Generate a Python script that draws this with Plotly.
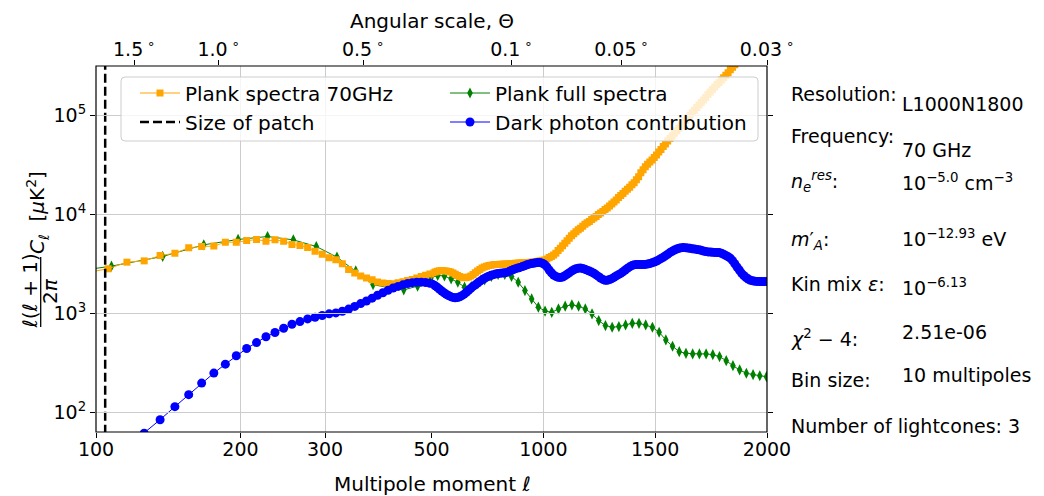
import math
import plotly.graph_objects as go

# ---------------- data ----------------
# multipole bins (bin size 10) for the 70 GHz spectrum and the dark-photon curve
ell_70 = list(range(96, 2000, 10))
planck70 = [
    2600, 2830, 3300, 3400, 3850, 4060, 4610, 4750, 4790, 5250,
    5250, 5460, 5590, 5370, 5540, 5370, 4980, 4860, 4640, 4260,
    3970, 3650, 3490, 3180, 2780, 2560, 2390, 2290, 2190, 2080,
    2030, 2010, 2000, 2040, 2090, 2150, 2200, 2290, 2370, 2440,
    2510, 2580, 2630, 2670, 2700, 2720, 2700, 2690, 2660, 2620,
    2560, 2490, 2420, 2360, 2320, 2300, 2310, 2340, 2400, 2480,
    2580, 2680, 2780, 2880, 2950, 3010, 3050, 3080, 3100, 3120,
    3130, 3140, 3150, 3160, 3170, 3180, 3190, 3200, 3220, 3230,
    3240, 3250, 3260, 3270, 3280, 3300, 3320, 3340, 3370, 3400,
    3440, 3470, 3550, 3670, 3760, 3890, 4070, 4320, 4570, 4840,
    5130, 5430, 5750, 6100, 6380, 6680, 7000, 7240, 7590, 7940,
    8220, 8510, 8910, 9230, 9550, 10000, 10350, 10720, 11220, 11610,
    12160, 12740, 13340, 13960, 14790, 15490, 16220, 17180, 17990, 18840,
    19950, 20890, 22390, 23990, 26300, 28180, 30200, 31990, 33880, 35480,
    37580, 39810, 42660, 45190, 48420, 51290, 54950, 58210, 61660, 66070,
    69980, 74130, 78520, 83180, 89130, 94410, 100000, 105900, 112200, 120200,
    127400, 134900, 142900, 151400, 162200, 171800, 182000, 192800, 204200, 213800,
    226500, 239900, 254100, 269200, 288400, 305500, 323600, 342800, 363100, 384600,
    407400, 426600, 451900, 478600, 501200, 530900, 562300, 595700, 631000, 668300,
    707900,
]
dark_photon = [
    24, 32, 45, 62, 85, 115, 152, 199, 251, 309,
    375, 444, 510, 584, 644, 711, 780, 830, 884, 918,
    955, 993, 1016, 1055, 1110, 1180, 1260, 1340, 1430, 1530,
    1620, 1720, 1810, 1880, 1950, 2010, 2050, 2070, 2075, 2060,
    2020, 1970, 1910, 1840, 1760, 1690, 1620, 1567, 1520, 1480,
    1455, 1445, 1450, 1475, 1515, 1570, 1640, 1720, 1800, 1880,
    1950, 2030, 2110, 2190, 2260, 2330, 2380, 2430, 2470, 2500,
    2530, 2550, 2560, 2575, 2600, 2650, 2720, 2780, 2840, 2880,
    2920, 2980, 3040, 3100, 3150, 3190, 3220, 3250, 3270, 3270,
    3220, 3120, 2960, 2750, 2580, 2450, 2370, 2320, 2310, 2340,
    2410, 2490, 2580, 2680, 2760, 2830, 2870, 2880, 2850, 2800,
    2740, 2680, 2620, 2550, 2460, 2370, 2280, 2210, 2170, 2170,
    2200, 2250, 2320, 2400, 2470, 2540, 2640, 2750, 2860, 2960,
    3050, 3100, 3120, 3120, 3120, 3120, 3130, 3160, 3200, 3250,
    3310, 3390, 3480, 3590, 3700, 3830, 3970, 4120, 4250, 4380,
    4480, 4560, 4610, 4630, 4620, 4590, 4550, 4510, 4470, 4440,
    4400, 4340, 4280, 4230, 4190, 4170, 4150, 4140, 4130, 4120,
    4060, 3970, 3850, 3740, 3620, 3420, 3180, 2950, 2750, 2560,
    2420, 2310, 2230, 2170, 2140, 2120, 2110, 2100, 2100, 2100,
    2100,
]
# Planck full binned spectrum (bins of 30)
ell_full = [round(77.7 + 30 * k, 1) for k in range(65)]
planck_full = [
    2400, 3010, 3770, 4940, 5590, 5990, 5540, 4750, 3710, 2690,
    1960, 1820, 1735, 1890, 2300, 2420, 2400, 2240, 2070, 1845,
    1875, 2020, 2190, 2370, 2480, 2480, 2370, 2070, 1705, 1405,
    1160, 1060, 1030, 1114, 1186, 1225, 1186, 1114, 993, 849,
    757, 728, 739, 769, 798, 798, 769, 728, 648, 542,
    468, 413, 397, 392, 392, 392, 385, 368, 335, 298,
    270, 250, 242, 236, 231,
]
ell_patch = 104.5

ell_split = 500
left_ticks = [100, 200, 300, 500]
left_ticktext = ["100", "200", "300", ""]
right_ticks = [500, 1000, 1500, 2000]
y_ticks = [1e2, 1e3, 1e4, 1e5]
y_ticktext = ["10<sup>2</sup>", "10<sup>3</sup>", "10<sup>4</sup>", "10<sup>5</sup>"]
top_tick_pos = [0.0569, 0.1827, 0.398, 0.619, 0.783, 1.0]
top_tick_text = ["1.5", "1.0", "0.5", "0.1", "0.05", "0.03"]

info_labels = ["Resolution:", "Frequency:", "<i>n</i><sub><i>e</i></sub><sup><i>res</i></sup>:",
               "<i>m</i>′<sub><i>A</i></sub>:", "Kin mix <i>ε</i>:",
               "<i>χ</i><sup>2</sup> − 4:", "Bin size:", "Number of lightcones: 3"]
info_values = ["L1000N1800", "70 GHz", "10<sup>−5.0</sup> cm<sup>−3</sup>",
               "10<sup>−12.93</sup> eV", "10<sup>−6.13</sup>", "2.51e-06", "10 multipoles", ""]

# ---------------- layout geometry (pixels, in window coordinates) ----------------
W, H = 1044, 496
OFF = 8                       # default page margin around the plot div
L, R, T, B = 96, 767, 66, 432
PW, PH = R - L, B - T
FONT = "DejaVu Sans"


def px(x):
    return (x - L) / PW


def py(y):
    return (B - y) / PH


def split(ell, val, lo, hi):
    left = [(a, b) for a, b in zip(ell, val) if a < hi]
    right = [(a, b) for a, b in zip(ell, val) if a > lo]
    return ([p[0] for p in left], [p[1] for p in left],
            [p[0] for p in right], [p[1] for p in right])


fig = go.Figure()

ORANGE, GREEN, BLUE = "#FFA500", "#008000", "#0000FF"

# green: Planck full spectra
gl_x, gl_y, gr_x, gr_y = split(ell_full, planck_full, 470, 530)
for xs, ys, xa, show in [(gl_x, gl_y, "x", True), (gr_x, gr_y, "x2", False)]:
    fig.add_trace(go.Scatter(
        x=xs, y=ys, xaxis=xa, yaxis="y", mode="lines+markers",
        line=dict(color=GREEN, width=1),
        marker=dict(symbol="diamond-tall", size=8, color=GREEN),
        name="Plank full spectra", showlegend=show, legend="legend3"))

# orange: Planck 70 GHz
ol_x, ol_y, or_x, or_y = split(ell_70, planck70, 480, 520)
for xs, ys, xa, show in [(ol_x, ol_y, "x", True), (or_x, or_y, "x2", False)]:
    fig.add_trace(go.Scatter(
        x=xs, y=ys, xaxis=xa, yaxis="y", mode="lines+markers",
        line=dict(color=ORANGE, width=1),
        marker=dict(symbol="square", size=7, color=ORANGE),
        name="Plank spectra 70GHz", showlegend=show, legend="legend"))

# size of patch
fig.add_trace(go.Scatter(
    x=[ell_patch, ell_patch], y=[10, 1e7], xaxis="x", yaxis="y", mode="lines",
    line=dict(color="black", width=2.5, dash="9px,4px"),
    name="Size of patch", legend="legend2"))

# blue: dark photon contribution
bl_x, bl_y, br_x, br_y = split(ell_70, dark_photon, 480, 520)
for xs, ys, xa, show in [(bl_x, bl_y, "x", True), (br_x, br_y, "x2", False)]:
    fig.add_trace(go.Scatter(
        x=xs, y=ys, xaxis=xa, yaxis="y", mode="lines+markers",
        line=dict(color=BLUE, width=1),
        marker=dict(symbol="circle", size=9, color=BLUE),
        name="Dark photon contribution", showlegend=show, legend="legend4"))

# invisible anchors so that the top angular axis and the right tick axis are drawn
fig.add_trace(go.Scatter(x=[0, 1], y=[1e3, 1e3], xaxis="x3", yaxis="y", mode="markers",
                         marker=dict(opacity=0), showlegend=False, hoverinfo="skip"))
fig.add_trace(go.Scatter(x=[1000, 1000], y=[1e3, 1e3], xaxis="x2", yaxis="y2", mode="markers",
                         marker=dict(opacity=0), showlegend=False, hoverinfo="skip"))

GRID = "#cccccc"
tickfont = dict(family=FONT, size=19, color="black")
ylo = 2 - (B - 412.7) / 99.13
yhi = 5 + (115.3 - T) / 99.13

common_x = dict(ticks="outside", ticklen=5, tickwidth=1, tickcolor="black",
                showgrid=True, gridcolor=GRID, gridwidth=1.2, zeroline=False,
                showline=False, tickfont=tickfont, ticklabelstandoff=-5)

legend_common = dict(bgcolor="rgba(0,0,0,0)", borderwidth=0, xanchor="left",
                     yanchor="middle", font=dict(family=FONT, size=20, color="black"),
                     itemwidth=40)

fig.update_layout(
    width=W - OFF, height=H - OFF,
    margin=dict(l=L - OFF, r=W - R, t=T - OFF, b=H - B, pad=0),
    paper_bgcolor="white", plot_bgcolor="rgba(0,0,0,0)",
    font=dict(family=FONT, size=19, color="black"),
    xaxis=dict(type="log", range=[2, math.log10(ell_split)], domain=[0, 0.5],
               anchor="y", tickvals=left_ticks, ticktext=left_ticktext, **common_x),
    xaxis2=dict(type="linear", range=[ell_split, 2000], domain=[0.5, 1],
                anchor="y", tickvals=right_ticks,
                ticktext=[str(v) for v in right_ticks], **common_x),
    xaxis3=dict(type="linear", range=[0, 1], domain=[0, 1], anchor="y", side="top",
                tickvals=top_tick_pos,
                ticktext=[f"{t}\u2009<sup>∘</sup>" for t in top_tick_text],
                ticks="outside", ticklen=5, tickcolor="black", showgrid=False,
                zeroline=False, showline=False, tickfont=tickfont,
                ticklabelstandoff=-4),
    yaxis=dict(type="log", range=[ylo, yhi], anchor="x", tickvals=y_ticks,
               ticktext=y_ticktext, ticks="outside", ticklen=5, tickcolor="black",
               showgrid=True, gridcolor=GRID, gridwidth=1.2, zeroline=False,
               showline=False, tickfont=tickfont),
    yaxis2=dict(type="log", range=[ylo, yhi], anchor="x2", overlaying="y",
                side="right", tickvals=y_ticks, ticks="outside", ticklen=5,
                tickcolor="black", showticklabels=False, showgrid=False,
                zeroline=False, showline=False),
    legend=dict(x=px(135), y=py(93), **legend_common),
    legend2=dict(x=px(135), y=py(122), **legend_common),
    legend3=dict(x=px(445), y=py(93), **legend_common),
    legend4=dict(x=px(445), y=py(122), **legend_common),
    showlegend=True,
)

# legend frame with rounded corners
lx0, lx1, ly0, ly1 = px(121), px(758), py(141), py(77)
rx, ry = 4 / PW, 4 / PH
legend_path = (f"M{lx0 + rx},{ly0} L{lx1 - rx},{ly0} Q{lx1},{ly0} {lx1},{ly0 + ry} "
               f"L{lx1},{ly1 - ry} Q{lx1},{ly1} {lx1 - rx},{ly1} "
               f"L{lx0 + rx},{ly1} Q{lx0},{ly1} {lx0},{ly1 - ry} "
               f"L{lx0},{ly0 + ry} Q{lx0},{ly0} {lx0 + rx},{ly0} Z")

shapes = [
    dict(type="path", xref="paper", yref="paper", path=legend_path,
         fillcolor="rgba(255,255,255,0.8)",
         line=dict(color="rgba(200,200,200,0.9)", width=1), layer="above"),
    # plot frame
    dict(type="rect", xref="paper", yref="paper", x0=0, x1=1, y0=0, y1=1,
         line=dict(color="black", width=1.2), layer="above"),
    # fraction bar of the y label
    dict(type="line", xref="paper", yref="paper", x0=px(40.7), x1=px(40.7),
         y0=py(327), y1=py(257), line=dict(color="black", width=1.3)),
]
fig.update_layout(shapes=shapes)

ann = []
tf = dict(family=FONT, size=20, color="black")
ann.append(dict(text="Multipole moment <i>ℓ</i>", x=px(432), y=py(484), xref="paper",
                yref="paper", showarrow=False, font=tf, xanchor="center", yanchor="middle"))
ann.append(dict(text="Angular scale, Θ", x=px(432), y=py(21), xref="paper",
                yref="paper", showarrow=False, font=tf, xanchor="center", yanchor="middle"))
ann.append(dict(text="<i>ℓ</i>(<i>ℓ</i> + 1)", x=px(29.5), y=py(291), xref="paper",
                yref="paper", showarrow=False, font=tf, textangle=-90,
                xanchor="center", yanchor="middle"))
ann.append(dict(text="2<i>π</i>", x=px(50), y=py(291), xref="paper",
                yref="paper", showarrow=False, font=tf, textangle=-90,
                xanchor="center", yanchor="middle"))
ann.append(dict(text="<i>C</i><sub><i>ℓ</i></sub>  [<i>μ</i>K<sup>2</sup>]", x=px(37),
                y=py(213), xref="paper", yref="paper", showarrow=False, font=tf,
                textangle=-90, xanchor="center", yanchor="middle"))

label_y = [94, 136, 181, 240, 284, 338, 380, 426]
value_y = [104, 150, 182, 238, 287, 332, 375, 426]
inf = dict(family=FONT, size=19, color="black")
for lab, val, ly, vy in zip(info_labels, info_values, label_y, value_y):
    ann.append(dict(text=lab, x=px(789), y=py(ly), xref="paper", yref="paper",
                    showarrow=False, font=inf, xanchor="left", yanchor="middle"))
    if val:
        ann.append(dict(text=val, x=px(900), y=py(vy), xref="paper", yref="paper",
                        showarrow=False, font=inf, xanchor="left", yanchor="middle"))
fig.update_layout(annotations=ann)

fig.write_html("out.html")
